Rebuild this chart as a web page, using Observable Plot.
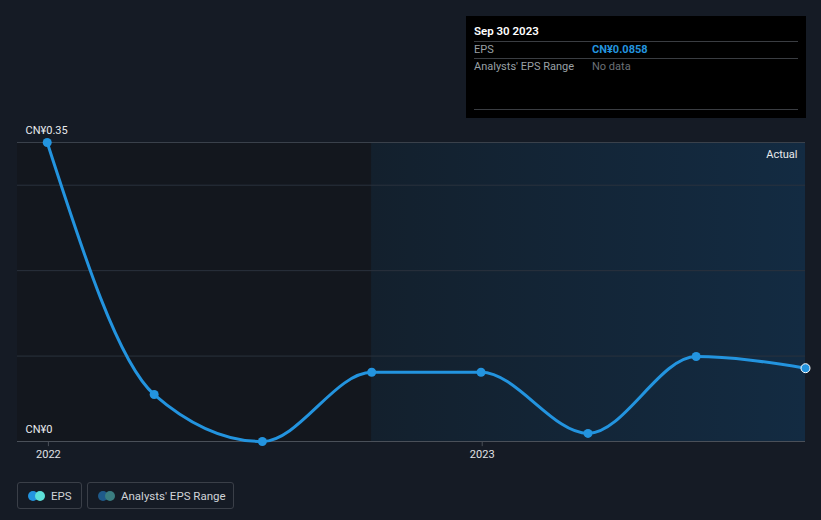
<!DOCTYPE html>
<html>
<head>
<meta charset="utf-8">
<script src="https://cdn.jsdelivr.net/npm/d3@7"></script>
<script src="https://cdn.jsdelivr.net/npm/@observablehq/plot@0.6"></script>
<style>
  html, body { margin: 0; padding: 0; background: #151b25; }
  body { width: 821px; height: 520px; position: relative; overflow: hidden; font-family: Roboto, "Noto Sans", sans-serif; }
  #chart { position: absolute; left: 0; top: 0; }
  .tip { position: absolute; left: 466px; top: 16px; width: 340px; height: 102px; background: #000; color: #fff; font-size: 11px; }
  .tip .h { position: absolute; left: 8px; top: 8px; font-weight: 600; font-size: 11.5px; }
  .tip .ln { position: absolute; left: 8px; width: 324px; height: 1px; background: #3a3d42; }
  .tip .lab { position: absolute; left: 8px; color: #9aa0a6; }
  .tip .val { position: absolute; left: 126px; }
  .legend { position: absolute; top: 482px; height: 27px; border: 1px solid #3a3f48; border-radius: 3px; box-sizing: border-box; color: #d0d3d8; font-size: 11.5px; display: flex; align-items: center; white-space: nowrap; }
  .dots { position: relative; width: 17px; height: 10px; margin-left: 10px; margin-right: 6px; flex: none; }
  .dots span { position: absolute; top: 0; width: 10px; height: 10px; border-radius: 5px; }
</style>
</head>
<body>
<div id="chart"></div>
<div class="tip">
  <div class="h">Sep 30 2023</div>
  <div class="ln" style="top:25px"></div>
  <div class="lab" style="top:27px">EPS</div>
  <div class="val" style="top:27px;color:#2394df;font-weight:700">CN¥0.0858</div>
  <div class="ln" style="top:42px"></div>
  <div class="lab" style="top:44px">Analysts' EPS Range</div>
  <div class="val" style="top:44px;color:#6b7077">No data</div>
  <div class="ln" style="top:93px"></div>
</div>
<div class="legend" style="left:17px;width:65px">
  <div class="dots"><span style="left:0;background:#2394df"></span><span style="left:7px;background:#5ce0d8"></span></div>EPS
</div>
<div class="legend" style="left:87px;width:147px">
  <div class="dots"><span style="left:0;background:#1f5a8a"></span><span style="left:7px;background:#3a7d80"></span></div>Analysts' EPS Range
</div>
<script>
const dates = ["2021-12-31","2022-03-31","2022-06-30","2022-09-30","2022-12-31","2023-03-31","2023-06-30","2023-09-30"];
const eps = [0.35, 0.055, 0.0, 0.081, 0.081, 0.0095, 0.0995, 0.0858];
const yTicks = [0, 0.35];
const gridValues = [0.1, 0.2, 0.3];
const xTickLabels = ["2022", "2023"];
const actualStart = "2022-09-30";
const actualEnd = "2023-09-30";

const data = dates.map((d, i) => ({date: new Date(d), eps: eps[i]}));
const xDomain = [new Date("2021-12-06"), new Date("2023-09-30")];
const xTicks = xTickLabels.map(t => new Date(t + "-01-01"));

const plot = Plot.plot({
  width: 821,
  height: 520,
  marginTop: 142,
  marginBottom: 79,
  marginLeft: 17,
  marginRight: 16,
  style: {background: "transparent", color: "#d0d3d8", fontFamily: "Roboto, sans-serif", fontSize: "11px", overflow: "visible"},
  x: {type: "utc", domain: xDomain, axis: null},
  y: {type: "linear", domain: [0, 0.35], axis: null},
  marks: [
    () => {
      const ns = "http://www.w3.org/2000/svg";
      const defs = document.createElementNS(ns, "defs");
      defs.innerHTML = `<linearGradient id="actg" x1="0" x2="1" y1="0" y2="0"><stop offset="0" stop-color="#13202d"/><stop offset="1" stop-color="#132b42"/></linearGradient>`;
      return defs;
    },
    Plot.rect([{x1: xDomain[0], x2: new Date(actualStart), y1: 0, y2: 0.35}], {x1: "x1", x2: "x2", y1: "y1", y2: "y2", fill: "#13171e"}),
    Plot.rect([{x1: new Date(actualStart), x2: new Date(actualEnd), y1: 0, y2: 0.35}], {x1: "x1", x2: "x2", y1: "y1", y2: "y2", fill: "url(#actg)"}),
    Plot.ruleY(gridValues, {stroke: "#2a323d", strokeWidth: 1}),
    Plot.ruleY([0.35], {stroke: "#3a414b", strokeWidth: 1}),
    Plot.ruleY([0], {stroke: "#4a5059", strokeWidth: 1}),
    Plot.ruleX(xTicks, {x: d => d, y1: 0, y2: -0.006, stroke: "#4a5059", strokeWidth: 1}),
    Plot.text(xTickLabels, {x: d => new Date(d + "-01-01"), y: 0, dy: 13, text: d => d, fill: "#e0e2e5", fontSize: 11}),
    Plot.text(yTicks, {x: xDomain[0], y: d => d, text: d => "CN¥" + d, dx: 8, dy: -12, textAnchor: "start", fill: "#e8eaed", fontSize: 11}),
    Plot.text(["Actual"], {x: new Date(actualEnd), y: 0.35, text: d => d, dx: -8, dy: 12, textAnchor: "end", fill: "#e8eaed", fontSize: 11}),
    Plot.line(data, {x: "date", y: "eps", curve: "monotone-x", stroke: "#2394df", strokeWidth: 3}),
    Plot.dot(data.slice(0, -1), {x: "date", y: "eps", r: 4.5, fill: "#2394df"}),
    Plot.dot(data.slice(-1), {x: "date", y: "eps", r: 4.5, fill: "#2394df", stroke: "#ffffff", strokeWidth: 1})
  ]
});
document.getElementById("chart").appendChild(plot);
</script>
</body>
</html>
